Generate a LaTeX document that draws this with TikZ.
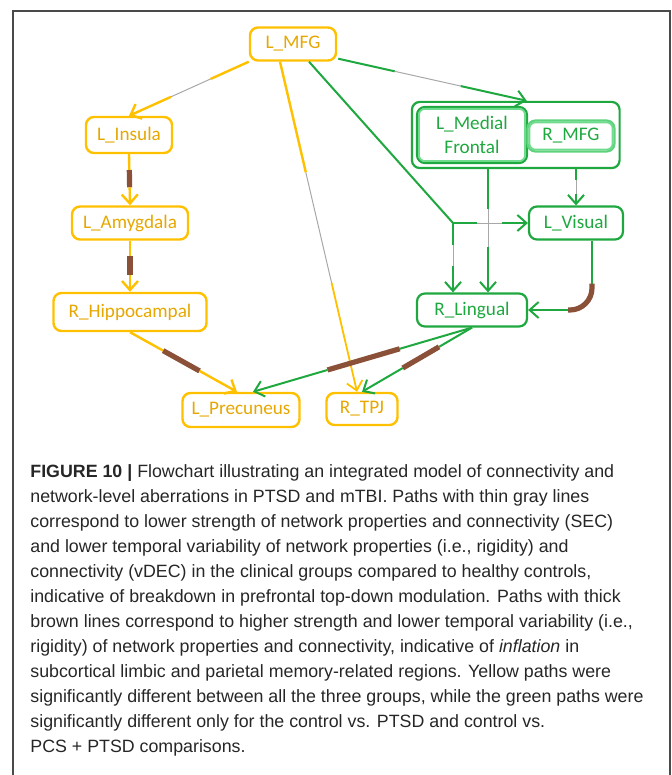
\documentclass[tikz,border=0pt]{standalone}
\usepackage{fontspec}
\usetikzlibrary{arrows.meta,calc,fit}
\newfontfamily\boxfont{Carlito}
\newfontfamily\capfont{Liberation Sans}
\definecolor{pathyellow}{HTML}{FFC000}
\definecolor{yeltext}{HTML}{E6A700}
\definecolor{pathgreen}{HTML}{1FA83F}
\definecolor{litegreen}{HTML}{6EDC8C}
\definecolor{thickbrown}{HTML}{8B5038}
\definecolor{thingray}{HTML}{A8A8A8}
\definecolor{captext}{HTML}{262626}
\definecolor{framegray}{HTML}{4A4A4A}
\tikzset{
  ybox/.style={draw=pathyellow, text=yeltext, line width=1.2pt, rounded corners=4pt,
    minimum height=16.5pt, inner sep=1pt, font=\boxfont\fontsize{9.6}{12}\selectfont},
  gbox/.style={draw=pathgreen, text=pathgreen, line width=1.1pt, rounded corners=4pt,
    minimum height=16.5pt, inner sep=1pt, font=\boxfont\fontsize{9.6}{12}\selectfont},
  ypath/.style={draw=pathyellow, line width=1.2pt},
  gpath/.style={draw=pathgreen, line width=1pt},
  graybit/.style={draw=thingray, line width=0.5pt},
  brownbit/.style={draw=thickbrown, line width=2.6pt},
  arrowv/.style={-{Straight Barb[length=4.5pt,width=8pt]}}
}
\begin{document}
\begin{tikzpicture}[x=0.5pt,y=-0.5pt]
\useasboundingbox (0,0) rectangle (672,775);
% frame
\draw[framegray, line width=0.7pt] (13,790) -- (13,11) -- (670,11) -- (670,790);

% Yellow regions
\node[ybox, minimum width=43pt] (lmfg) at (293,44) {L\_MFG};
\node[ybox, minimum width=43pt, minimum height=18pt] (linsula) at (129,135) {L\_Insula};
\node[ybox, minimum width=58pt] (lamyg) at (130,223) {L\_Amygdala};
\node[ybox, minimum width=76.5pt, minimum height=19pt] (rhippo) at (130,312) {R\_Hippocampal};
\node[ybox, minimum width=58.5pt, minimum height=17pt] (lprec) at (241,410) {L\_Precuneus};
\node[ybox, minimum width=35.5pt, minimum height=16pt] (rtpj) at (362,409) {R\_TPJ};

% Green regions
\node[gbox, minimum width=55pt, minimum height=28pt, align=center] (lmedfr) at (472,135) {L\_Medial\\Frontal};
\node[gbox, draw=litegreen!80!pathgreen, minimum width=43.5pt, minimum height=15.5pt] (rmfg) at (571,136) {R\_MFG};
\node[gbox, fit=(lmedfr)(rmfg), inner sep=2pt] (grp) {};
\draw[litegreen, line width=0.9pt, rounded corners=3pt] ($(lmedfr.north west)+(3,3)$) rectangle ($(lmedfr.south east)+(-3,-3)$);
\draw[litegreen, line width=0.9pt, rounded corners=3pt] ($(rmfg.north west)+(3,3)$) rectangle ($(rmfg.south east)+(-3,-3)$);
\node[gbox, minimum width=47pt] (lvis) at (576,223) {L\_Visual};
\node[gbox, minimum width=55pt] (rling) at (472,310) {R\_Lingual};

% Yellow paths
\draw[ypath] (lmfg.south west) -- ($(lmfg.south west)!0.32!(linsula.north)$);
\draw[graybit] ($(lmfg.south west)!0.32!(linsula.north)$) -- ($(lmfg.south west)!0.65!(linsula.north)$);
\draw[ypath, arrowv] ($(lmfg.south west)!0.65!(linsula.north)$) -- (linsula.north);

\draw[ypath] (linsula.south) -- ($(linsula.south)!0.31!(lamyg.north)$);
\draw[brownbit] ($(linsula.south)!0.31!(lamyg.north)$) -- ($(linsula.south)!0.65!(lamyg.north)$);
\draw[ypath, arrowv] ($(linsula.south)!0.65!(lamyg.north)$) -- (lamyg.north);

\draw[ypath] (lamyg.south) -- ($(lamyg.south)!0.3!(rhippo.north)$);
\draw[brownbit] ($(lamyg.south)!0.3!(rhippo.north)$) -- ($(lamyg.south)!0.67!(rhippo.north)$);
\draw[ypath, arrowv] ($(lamyg.south)!0.67!(rhippo.north)$) -- (rhippo.north);

\coordinate (precin) at ($(lprec.north)+(-4,0)$);
\draw[ypath] (rhippo.south) -- ($(rhippo.south)!0.31!(precin)$);
\draw[brownbit] ($(rhippo.south)!0.31!(precin)$) -- ($(rhippo.south)!0.65!(precin)$);
\draw[ypath, arrowv] ($(rhippo.south)!0.65!(precin)$) -- (precin);

\coordinate (mfgdown) at ($(lmfg.south)+(-13,0)$);
\coordinate (tpjin) at ($(rtpj.north)+(-5,0)$);
\draw[ypath] (mfgdown) -- ($(mfgdown)!0.335!(tpjin)$);
\draw[graybit] ($(mfgdown)!0.335!(tpjin)$) -- ($(mfgdown)!0.67!(tpjin)$);
\draw[ypath, line width=0.9pt, arrowv] ($(mfgdown)!0.67!(tpjin)$) -- (tpjin);

% Green paths
\coordinate (mfgright) at ($(lmfg.south east)+(1,-3)$);
\coordinate (grpin) at ($(grp.north)+(11,0)$);
\draw[gpath] (mfgright) -- ($(mfgright)!0.3!(grpin)$);
\draw[graybit] ($(mfgright)!0.3!(grpin)$) -- ($(mfgright)!0.65!(grpin)$);
\draw[gpath, arrowv] ($(mfgright)!0.65!(grpin)$) -- (grpin);

\coordinate (mfgdiag) at ($(lmfg.south)+(16,0)$);
\coordinate (lingin1) at ($(rling.north)+(-19,0)$);
\coordinate (lingin2) at ($(rling.north)+(16,0)$);
\coordinate (jn) at (lingin1 |- lvis.west);
\draw[gpath] (mfgdiag) -- (jn);
\draw[gpath] (jn) -- ($(jn)!0.32!(lvis.west)$);
\draw[graybit] ($(jn)!0.32!(lvis.west)$) -- ($(jn)!0.65!(lvis.west)$);
\draw[gpath, arrowv] ($(jn)!0.65!(lvis.west)$) -- (lvis.west);
\draw[gpath] (jn) -- ($(jn)!0.31!(lingin1)$);
\draw[graybit] ($(jn)!0.31!(lingin1)$) -- ($(jn)!0.62!(lingin1)$);
\draw[gpath, arrowv] ($(jn)!0.62!(lingin1)$) -- (lingin1);

\coordinate (medout) at (grp.south -| lingin2);
\draw[gpath] (medout) -- ($(medout)!0.32!(lingin2)$);
\draw[graybit] ($(medout)!0.32!(lingin2)$) -- ($(medout)!0.63!(lingin2)$);
\draw[gpath, arrowv] ($(medout)!0.63!(lingin2)$) -- (lingin2);

\coordinate (grpout) at (grp.south -| lvis.north);
\draw[gpath] (grpout) -- ($(grpout)!0.31!(lvis.north)$);
\draw[graybit] ($(grpout)!0.31!(lvis.north)$) -- ($(grpout)!0.69!(lvis.north)$);
\draw[gpath, arrowv] ($(grpout)!0.69!(lvis.north)$) -- (lvis.north);

\coordinate (visout) at ($(lvis.south)+(16,0)$);
\coordinate (bendtop) at ($(visout)+(0,43)$);
\coordinate (bendend) at ($(rling.east)+(40,0)$);
\draw[gpath] (visout) -- (bendtop);
\draw[brownbit, rounded corners=11pt] (bendtop) |- (bendend);
\draw[gpath, arrowv] (bendend) -- (rling.east);

\coordinate (precin2) at ($(lprec.north)+(12,0)$);
\draw[gpath] (rling.south) -- ($(rling.south)!0.33!(precin2)$);
\draw[brownbit] ($(rling.south)!0.33!(precin2)$) -- ($(rling.south)!0.66!(precin2)$);
\draw[gpath, arrowv] ($(rling.south)!0.66!(precin2)$) -- (precin2);

\draw[gpath] (rling.south) -- ($(rling.south)!0.3!(rtpj.north)$);
\draw[brownbit] ($(rling.south)!0.3!(rtpj.north)$) -- ($(rling.south)!0.63!(rtpj.north)$);
\draw[gpath, arrowv] ($(rling.south)!0.63!(rtpj.north)$) -- (rtpj.north);

% caption (base anchor sits on the last line)
\node[anchor=base west, align=left, inner sep=0pt, text=captext,
  font=\capfont\fontsize{8.9}{12.5}\selectfont] (caption) at (30,752)
  {\textbf{FIGURE 10 |} Flowchart illustrating an integrated model of connectivity and\\
   network-level aberrations in PTSD and mTBI. Paths with thin gray lines\\
   correspond to lower strength of network properties and connectivity (SEC)\\
   and lower temporal variability of network properties (i.e., rigidity) and\\
   connectivity (vDEC) in the clinical groups compared to healthy controls,\\
   indicative of breakdown in prefrontal top-down modulation. Paths with thick\\
   brown lines correspond to higher strength and lower temporal variability (i.e.,\\
   rigidity) of network properties and connectivity, indicative of \textit{inflation} in\\
   subcortical limbic and parietal memory-related regions. Yellow paths were\\
   significantly different between all the three groups, while the green paths were\\
   significantly different only for the control vs. PTSD and control vs.\\
   PCS + PTSD comparisons.};
\end{tikzpicture}
\end{document}
